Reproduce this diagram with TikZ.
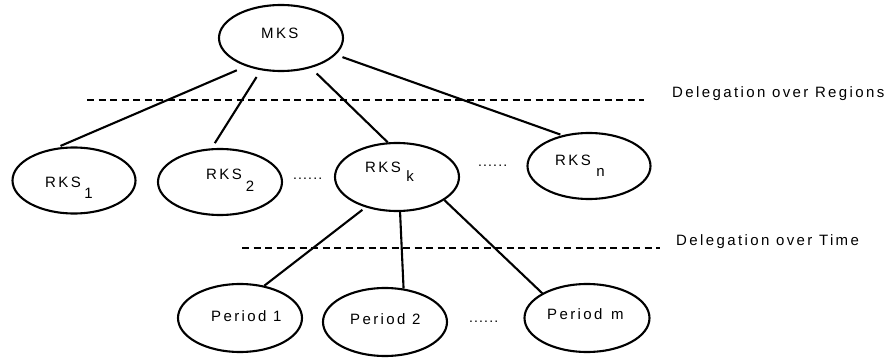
\documentclass[tikz,border=0pt]{standalone}
\usepackage{fontspec}
\setmainfont{Liberation Sans}[LetterSpace=16]
\usetikzlibrary{shapes.geometric}
\newcommand{\lowsub}[3]{\hspace{#1}\raisebox{-#2}{#3}}
\tikzset{
  ell/.style={draw, ellipse, line width=2.1pt, inner sep=0pt, minimum width=124pt, minimum height=66pt},
  lbl/.style={anchor=base west, inner sep=0pt, font=\fontsize{15pt}{17pt}\selectfont},
  dots/.style={anchor=base west, inner sep=0pt, font=\fontsize{14pt}{16pt}\selectfont\addfontfeature{LetterSpace=8}},
  conn/.style={line width=2.1pt},
  sep/.style={line width=2.2pt, dash pattern=on 7pt off 4.5pt}
}
\begin{document}
\begin{tikzpicture}[x=1pt, y=-1pt]
\useasboundingbox (0,0) rectangle (889,358);
% ellipses
\node[ell] (mks) at (281,38) {};
\node[ell, minimum width=123pt] (r1) at (74,180.5) {};
\node[ell] (r2) at (220,182) {};
\node[ell, minimum height=68pt] (rk) at (397,177) {};
\node[ell, minimum width=123pt] (rn) at (589,166) {};
\node[ell, minimum height=68pt] (p1) at (240,318) {};
\node[ell, minimum height=68pt] (p2) at (385,322) {};
\node[ell, minimum height=68pt, minimum width=125pt] (pm) at (587,318) {};
% texts
\node[lbl] (tmks) at (261,39) {MKS};
\node[lbl] (tr1) at (45,188) {RKS\lowsub{3.5pt}{11pt}{1}};
\node[lbl] (tr2) at (206,180) {RKS\lowsub{4pt}{12pt}{2}};
\node[lbl] (trk) at (365,173) {RKS\lowsub{5.5pt}{9pt}{k}};
\node[lbl] (trn) at (555,166) {RKS\lowsub{5.5pt}{11pt}{n}};
\node[lbl] (tp1) at (211,321) {Period 1};
\node[lbl] (tp2) at (350,324) {Period 2};
\node[lbl] (tpm) at (547,319) {Period\hspace{2pt} m};
\node[dots] (d1) at (293,180) {......};
\node[dots] (d2) at (478,167) {......};
\node[dots] (d3) at (469,322) {......};
\node[lbl] (lreg) at (672,98) {Delegation over Regions};
\node[lbl] (ltime) at (676,246) {Delegation over Time};
% separators
\coordinate (s1a) at (87,100);
\coordinate (s1b) at (644,100);
\coordinate (s2a) at (242,248);
\coordinate (s2b) at (660,248);
\draw[sep] (s1a) -- (s1b);
\draw[sep] (s2a) -- (s2b);
% connectors
\draw[conn, shorten <=10pt, shorten >=5pt] (mks.219) -- (r1.119);
\draw[conn, shorten <=8pt, shorten >=6pt] (mks.238) -- (r2.104);
\draw[conn, shorten <=8pt] (mks.315) -- (rk.105);
\draw[conn, shorten <=7pt, shorten >=2pt] (mks.343) -- (rn.131);
\draw[conn, shorten <=4pt] (rk.224) -- (p1.53);
\draw[conn] (rk.275) -- (p2.61);
\draw[conn] (rk.334) -- (pm.151);
\end{tikzpicture}
\end{document}
